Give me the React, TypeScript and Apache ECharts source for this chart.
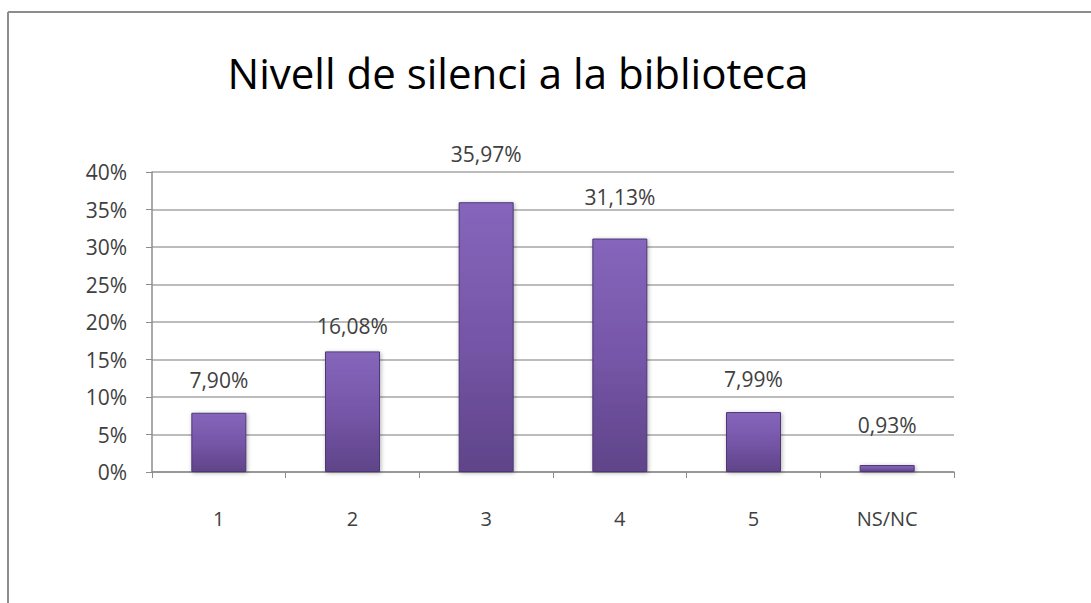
import React, { useEffect, useRef } from "react";
import * as echarts from "echarts";

const categories = ["1", "2", "3", "4", "5", "NS/NC"];
const values = [7.9, 16.08, 35.97, 31.13, 7.99, 0.93];
const labelTexts = ["7,90%", "16,08%", "35,97%", "31,13%", "7,99%", "0,93%"];
const labelDistances = [22, 15, 38, 31, 23, 30];
const yTicks = [0, 5, 10, 15, 20, 25, 30, 35, 40];

const FONT = "'Open Sans', Lato, sans-serif";

export default function App() {
  const ref = useRef<HTMLDivElement>(null);
  useEffect(() => {
    if (!ref.current) return;
    const chart = echarts.init(ref.current, undefined, { renderer: "svg" });
    const barColor = new echarts.graphic.LinearGradient(0, 0, 0, 1, [
      { offset: 0, color: "#8566bb" },
      { offset: 0.5, color: "#7656a8" },
      { offset: 1, color: "#5f4489" },
    ]);
    chart.setOption({
      animation: false,
      backgroundColor: "#ffffff",
      title: {
        text: "Nivell de silenci a la biblioteca",
        left: 513,
        top: 46,
        textAlign: "center",
        textStyle: {
          fontFamily: FONT,
          fontSize: 42,
          fontWeight: "normal",
          color: "#000000",
        },
      },
      graphic: [
        {
          type: "line",
          shape: { x1: 8, y1: 12, x2: 1091, y2: 12 },
          style: { stroke: "#8c8c8c", lineWidth: 2 },
        },
        {
          type: "line",
          shape: { x1: 8, y1: 12, x2: 8, y2: 603 },
          style: { stroke: "#8c8c8c", lineWidth: 2 },
        },
      ],
      grid: { left: 152, right: 137, top: 172, bottom: 131 },
      xAxis: {
        type: "category",
        data: categories,
        axisLine: { show: true, lineStyle: { color: "#8c8c8c", width: 1.5 } },
        axisTick: { show: true, alignWithLabel: false, length: 6, lineStyle: { color: "#8c8c8c" } },
        axisLabel: {
          margin: 36,
          fontFamily: FONT,
          fontSize: 20,
          color: "#404040",
        },
      },
      yAxis: {
        type: "value",
        min: 0,
        max: 40,
        interval: 5,
        axisLine: { show: true, lineStyle: { color: "#8c8c8c", width: 1.5 } },
        axisTick: { show: true, length: 6, lineStyle: { color: "#8c8c8c" } },
        splitLine: { show: true, lineStyle: { color: "#a6a6a6", width: 1.5 } },
        axisLabel: {
          margin: 25,
          fontFamily: FONT,
          fontSize: 21,
          color: "#404040",
          formatter: (v: number) => (yTicks.includes(v) ? v + "%" : ""),
        },
      },
      series: [
        {
          type: "bar",
          barWidth: 55,
          data: values.map((v, i) => ({
            value: v,
            label: {
              show: true,
              position: "top",
              distance: labelDistances[i],
              formatter: labelTexts[i],
              fontFamily: FONT,
              fontSize: 21,
              color: "#404040",
            },
          })),
          itemStyle: {
            color: barColor,
            borderColor: "#4e3875",
            borderWidth: 1,
            shadowColor: "rgba(0,0,0,0.3)",
            shadowBlur: 4,
            shadowOffsetX: 1,
            shadowOffsetY: 1,
          },
        },
      ],
    });
    return () => chart.dispose();
  }, []);
  return (
    <div
      ref={ref}
      style={{ position: "fixed", left: 0, top: 0, width: 1091, height: 603 }}
    />
  );
}
